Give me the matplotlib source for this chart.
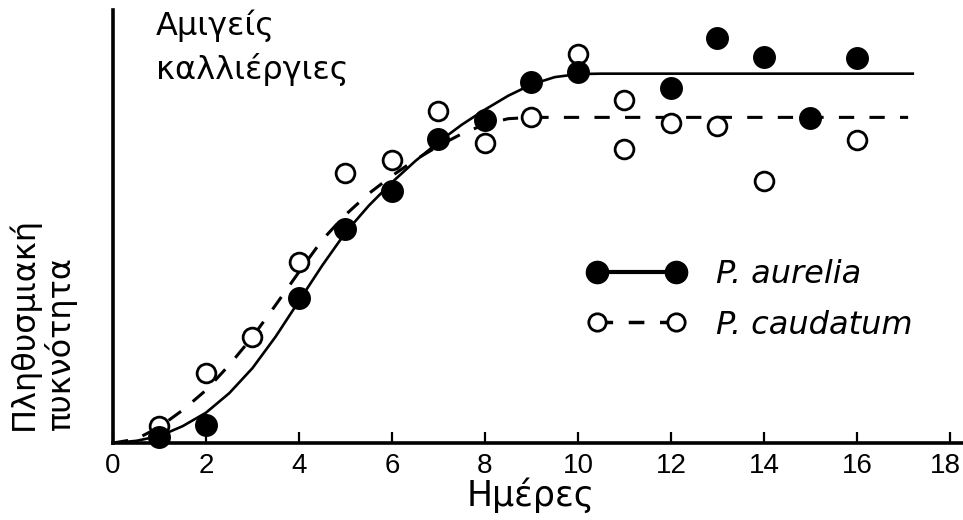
import matplotlib
matplotlib.use('Agg')
import matplotlib.pyplot as plt
from matplotlib.transforms import ScaledTranslation

# ---- data (density in arbitrary units 0-100) ----
days_aurelia = [1, 2, 4, 5, 6, 7, 8, 9, 10, 12, 13, 14, 15, 16]
dens_aurelia = [1.4, 4.2, 33.5, 49.4, 58.3, 70.2, 74.6, 83.3, 85.7, 82.0, 93.6, 89.1, 75.1, 88.9]

days_caudatum = [1, 2, 3, 4, 5, 6, 7, 8, 9, 10, 11, 11, 12, 13, 14, 16]
dens_caudatum = [3.9, 16.2, 24.5, 41.8, 62.4, 65.4, 76.7, 69.3, 75.2, 89.8, 79.2, 67.9, 73.9, 73.2, 60.5, 70.0]

# fitted growth curves as drawn in the reference
curve_days_aurelia = [0, 0.5, 1, 1.5, 2, 2.5, 3, 3.5, 4, 4.5, 5, 5.5, 6, 6.5, 7, 7.5, 8, 8.5, 9, 9.5, 10, 10.5, 17.2]
curve_aurelia = [0.0, 0.5, 1.6, 3.9, 7.0, 11.5, 17.3, 24.6, 32.8, 41.0, 48.6, 54.8, 60.2, 65.1, 69.5, 73.5,
                 77.0, 80.2, 82.8, 84.5, 85.2, 85.3, 85.3]
curve_days_caudatum = [0, 0.5, 1, 1.5, 2, 2.5, 3, 3.5, 4, 4.5, 5, 5.5, 6, 6.5, 7, 7.5, 8, 8.5, 9, 17.1]
curve_caudatum = [0.0, 0.9, 3.7, 7.6, 12.2, 18.0, 24.5, 31.9, 39.5, 46.9, 52.7, 57.6, 61.7, 65.4, 68.6, 71.4,
                  73.6, 74.9, 75.2, 75.2]

x_ticks = [0, 2, 4, 6, 8, 10, 12, 14, 16, 18]
label_aurelia = 'P. aurelia'
label_caudatum = 'P. caudatum'
title_lines = ['Αμιγείς', 'καλλιέργιες']
x_label = 'Ημέρες'
y_label = 'Πληθυσμιακή\nπυκνότητα'

plt.rcParams['font.family'] = ['DejaVu Sans']

W, H = 963, 520
fig = plt.figure(figsize=(W / 100, H / 100), dpi=100)
ax = fig.add_axes([113 / W, 77 / H, 850 / W, 433 / H])
ax.set_xlim(0, 18.28)
ax.set_ylim(0, 100)

# curves
ax.plot(curve_days_aurelia, curve_aurelia, color='black', lw=1.9, zorder=2)
ax.plot(curve_days_caudatum, curve_caudatum, color='black', lw=2.2, dashes=(5, 5), zorder=2)

# points
ax.plot(days_caudatum, dens_caudatum, linestyle='none', marker='o', ms=13.5, mfc='white',
        mec='black', mew=2.0, zorder=3, clip_on=False)
ax.plot(days_aurelia, dens_aurelia, linestyle='none', marker='o', ms=15.5, mfc='black',
        mec='black', zorder=4, clip_on=False)

# legend handles
h1, = ax.plot([], [], color='black', lw=3, marker='o', ms=16, mfc='black', mec='black')
h2, = ax.plot([], [], color='black', lw=2.5, dashes=(4.5, 4.5), marker='o', ms=12.5, mfc='white',
              mec='black', mew=2.0)
leg = ax.legend([h1, h2], [label_aurelia, label_caudatum], loc='center left',
                bbox_to_anchor=(587 / W, 1 - 300 / H), bbox_transform=fig.transFigure,
                frameon=False, numpoints=2, handlelength=3.1, handletextpad=0.95,
                labelspacing=0.6, borderpad=0, borderaxespad=0,
                prop={'size': 23, 'style': 'italic'})

# spines & ticks
for s in ['top', 'right']:
    ax.spines[s].set_visible(False)
for s in ['left', 'bottom']:
    ax.spines[s].set_linewidth(2.6)
ax.set_yticks([])
ax.set_xticks(x_ticks)
ax.set_xticklabels([str(t) for t in x_ticks], family=['Liberation Sans', 'DejaVu Sans'])
ax.tick_params(axis='x', direction='in', length=8, width=1.6, labelsize=20, pad=7)
last = ax.get_xticklabels()[-1]
last.set_transform(last.get_transform() + ScaledTranslation(-5 / 100, 0, fig.dpi_scale_trans))

# texts
fig.text(156 / W, 1 - 35 / H, title_lines[0], fontsize=23, ha='left', va='baseline')
fig.text(156 / W, 1 - 79 / H, title_lines[1], fontsize=23, ha='left', va='baseline')
fig.text(531 / W, 1 - 506 / H, x_label, fontsize=25, ha='center', va='baseline')
fig.text(42 / W, 1 - 430 / H, y_label, fontsize=23, rotation=90, ha='center', va='bottom',
         multialignment='left', linespacing=1.15)

fig.savefig('out.png', dpi=100)
